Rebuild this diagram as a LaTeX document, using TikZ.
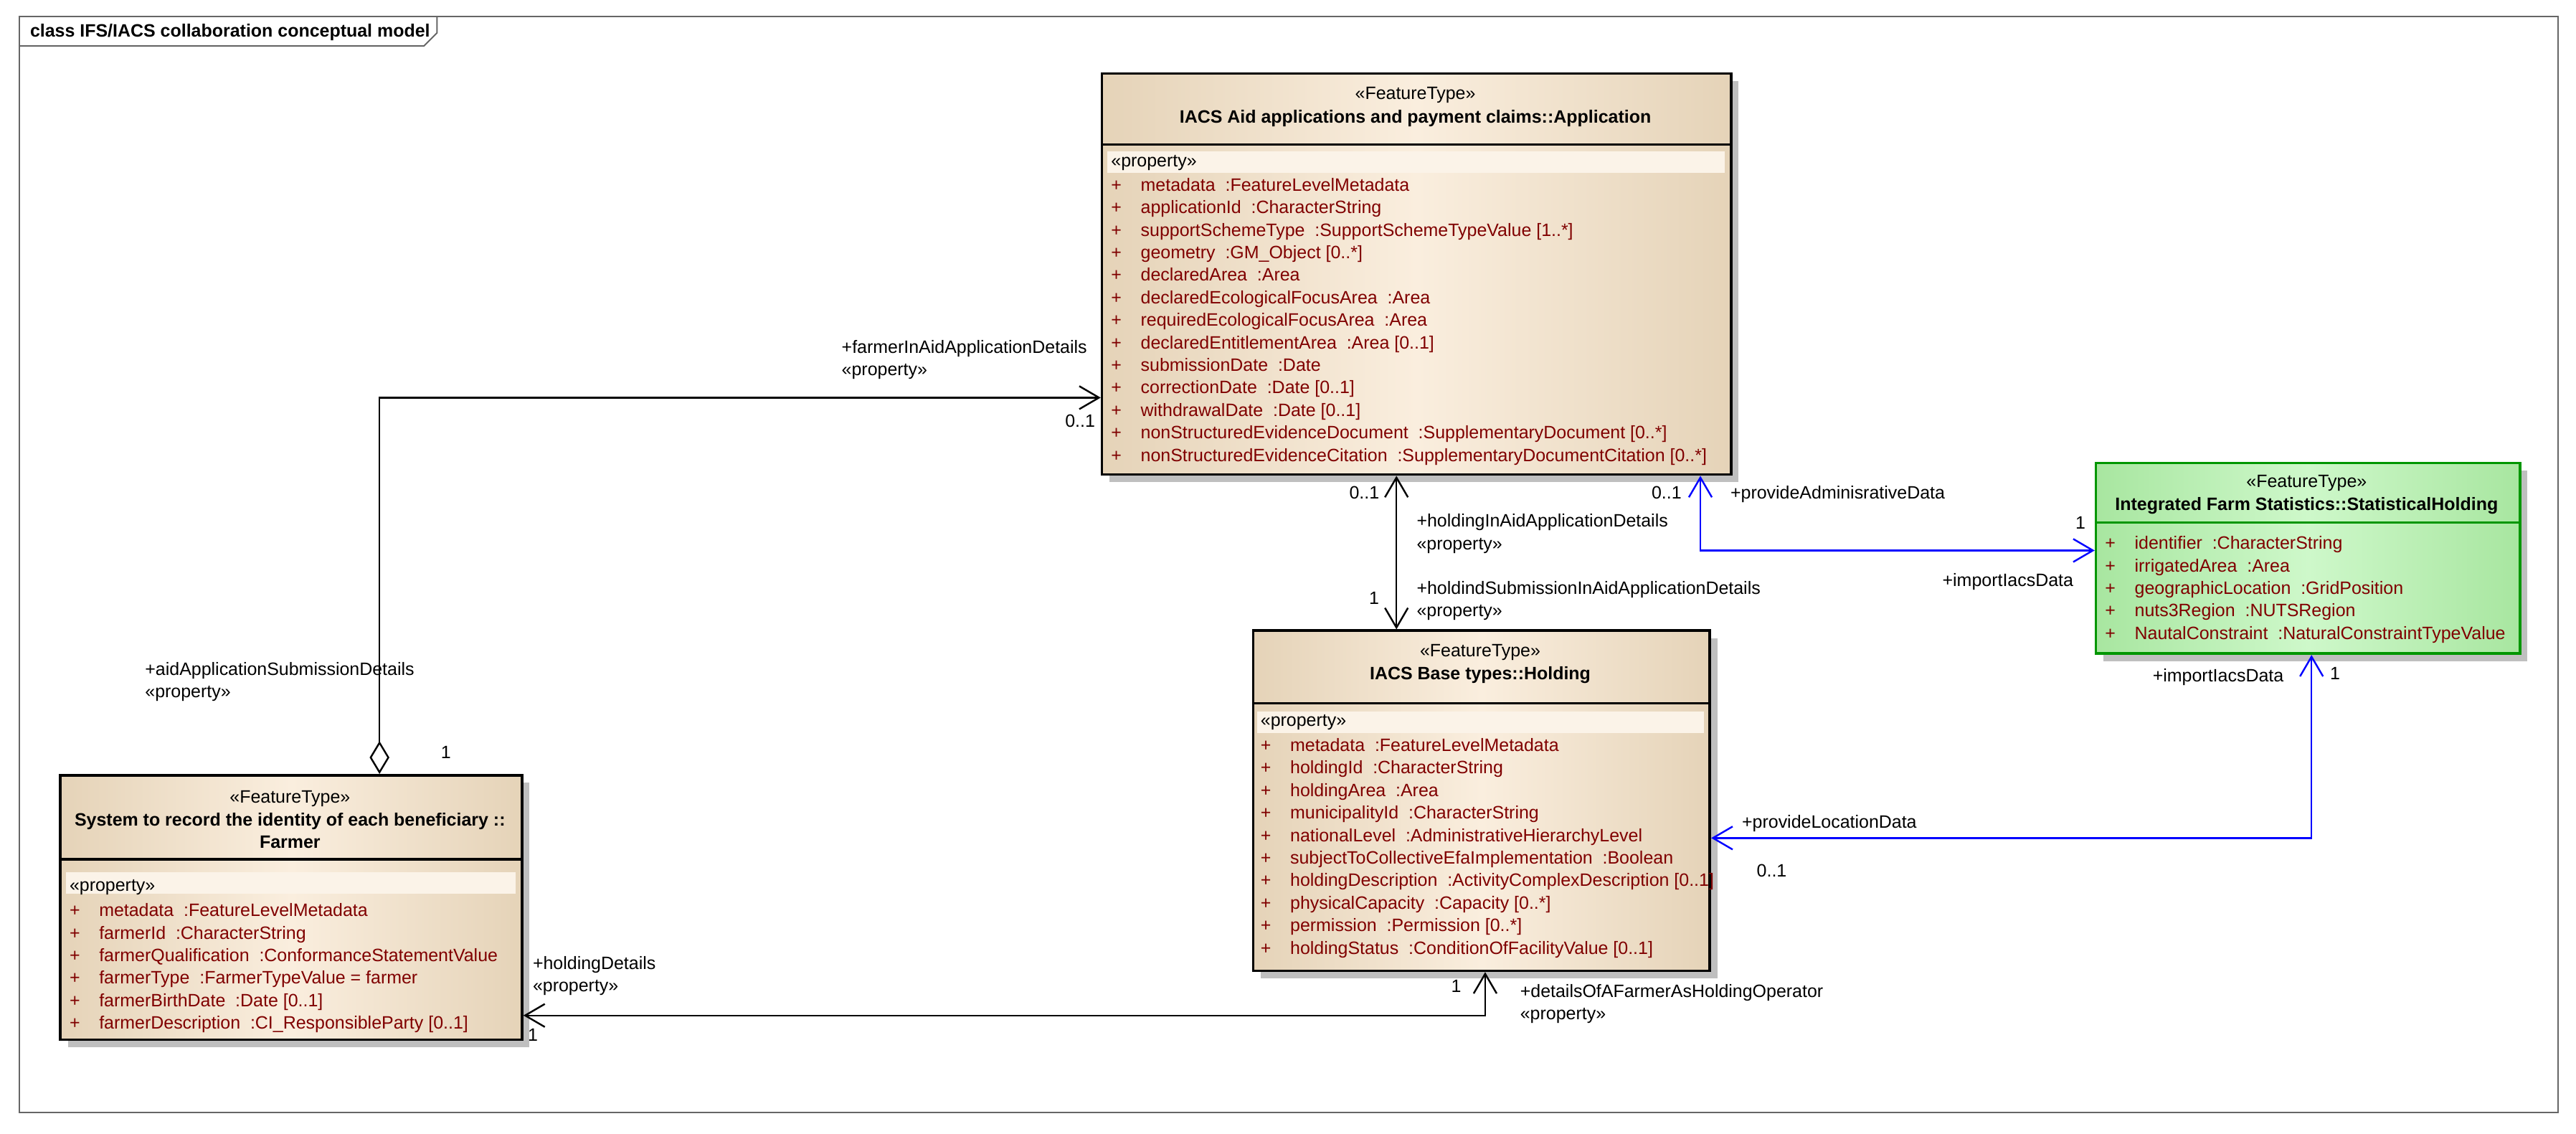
\documentclass[tikz,border=0pt]{standalone}
\usepackage{fontspec}
\setmainfont{Liberation Sans}
\usetikzlibrary{arrows.meta,shadows}
\definecolor{attrred}{RGB}{128,0,0}
\definecolor{tandark}{RGB}{229,211,184}
\definecolor{tanlight}{RGB}{250,238,222}
\definecolor{greendark}{RGB}{168,230,160}
\definecolor{greenlight}{RGB}{206,248,202}
\definecolor{greenline}{RGB}{0,150,0}
\newcommand{\attr}[1]{\makebox[0.36cm][l]{+}#1}
\begin{document}
\begin{tikzpicture}[
    font=\fontsize{6.2}{7.8}\selectfont,
    classbox/.style={draw=black, line width=0.9pt, left color=tandark, right color=tandark, middle color=tanlight, shading angle=90,
      drop shadow={shadow xshift=0.09cm, shadow yshift=-0.09cm, fill=black!25, opacity=1}, anchor=north west, inner sep=0pt},
    statbox/.style={classbox, draw=greenline, left color=greendark, right color=greendark, middle color=greenlight},
    title/.style={font=\fontsize{6.2}{7.8}\selectfont\bfseries, inner sep=0pt},
    stereo/.style={inner sep=0pt},
    attrs/.style={anchor=north west, align=left, inner sep=0pt, text=attrred},
    band/.style={fill=tanlight!70!white, draw=none},
    lbl/.style={anchor=west, inner sep=0pt},
    assoc/.style={line width=0.6pt, {Straight Barb[length=2.4mm,width=2.8mm]}-{Straight Barb[length=2.4mm,width=2.8mm]}},
    blueassoc/.style={assoc, draw=blue}
]
\useasboundingbox (0,0) rectangle (31.36,-13.8);

% Frame
\draw[black!60, line width=0.5pt] (0.24,-0.20) rectangle (31.14,-13.54);
\draw[black!60, line width=0.5pt] (0.24,-0.56) -- (5.16,-0.56) -- (5.32,-0.40) -- (5.32,-0.20);
\node[lbl, font=\fontsize{6.2}{7.8}\selectfont\bfseries] (frametitle) at (0.36,-0.39) {class IFS/IACS collaboration conceptual model};

% Application
\node[classbox, minimum width=7.66cm, minimum height=4.88cm] (app) at (13.40,-0.88) {};
\draw[line width=0.9pt] (13.40,-1.76) -- (21.06,-1.76);
\node[stereo] (appst) at (17.23,-1.16) {«FeatureType»};
\node[title] (appname) at (17.23,-1.44) {IACS Aid applications and payment claims::Application};
\fill[band] (13.48,-1.84) rectangle (21.0,-2.10);
\node[lbl] (appprop) at (13.52,-1.98) {«property»};
\node[attrs] (appattrs) at (13.52,-2.16) {\attr{metadata\ \ :FeatureLevelMetadata}\\
  \attr{applicationId\ \ :CharacterString}\\
  \attr{supportSchemeType\ \ :SupportSchemeTypeValue [1..*]}\\
  \attr{geometry\ \ :GM\_Object [0..*]}\\
  \attr{declaredArea\ \ :Area}\\
  \attr{declaredEcologicalFocusArea\ \ :Area}\\
  \attr{requiredEcologicalFocusArea\ \ :Area}\\
  \attr{declaredEntitlementArea\ \ :Area [0..1]}\\
  \attr{submissionDate\ \ :Date}\\
  \attr{correctionDate\ \ :Date [0..1]}\\
  \attr{withdrawalDate\ \ :Date [0..1]}\\
  \attr{nonStructuredEvidenceDocument\ \ :SupplementaryDocument [0..*]}\\
  \attr{nonStructuredEvidenceCitation\ \ :SupplementaryDocumentCitation [0..*]}};

% StatisticalHolding
\node[statbox, minimum width=5.16cm, minimum height=2.32cm] (stat) at (25.50,-5.62) {};
\draw[greenline, line width=0.9pt] (25.50,-6.36) -- (30.66,-6.36);
\node[stereo] (statst) at (28.08,-5.88) {«FeatureType»};
\node[title] (statname) at (28.08,-6.16) {Integrated Farm Statistics::StatisticalHolding};
\node[attrs] (statattrs) at (25.62,-6.52) {\attr{identifier\ \ :CharacterString}\\
  \attr{irrigatedArea\ \ :Area}\\
  \attr{geographicLocation\ \ :GridPosition}\\
  \attr{nuts3Region\ \ :NUTSRegion}\\
  \attr{NautalConstraint\ \ :NaturalConstraintTypeValue}};

% Holding
\node[classbox, minimum width=5.56cm, minimum height=4.14cm] (hold) at (15.24,-7.66) {};
\draw[line width=0.9pt] (15.24,-8.56) -- (20.80,-8.56);
\node[stereo] (holdst) at (18.02,-7.94) {«FeatureType»};
\node[title] (holdname) at (18.02,-8.22) {IACS Base types::Holding};
\fill[band] (15.30,-8.66) rectangle (20.74,-8.92);
\node[lbl] (holdprop) at (15.34,-8.79) {«property»};
\node[attrs] (holdattrs) at (15.34,-8.98) {\attr{metadata\ \ :FeatureLevelMetadata}\\
  \attr{holdingId\ \ :CharacterString}\\
  \attr{holdingArea\ \ :Area}\\
  \attr{municipalityId\ \ :CharacterString}\\
  \attr{nationalLevel\ \ :AdministrativeHierarchyLevel}\\
  \attr{subjectToCollectiveEfaImplementation\ \ :Boolean}\\
  \attr{holdingDescription\ \ :ActivityComplexDescription [0..1]}\\
  \attr{physicalCapacity\ \ :Capacity [0..*]}\\
  \attr{permission\ \ :Permission [0..*]}\\
  \attr{holdingStatus\ \ :ConditionOfFacilityValue [0..1]}};

% Farmer
\node[classbox, minimum width=5.62cm, minimum height=3.22cm] (farmer) at (0.72,-9.42) {};
\draw[line width=0.9pt] (0.72,-10.46) -- (6.34,-10.46);
\node[stereo] (farmerst) at (3.53,-9.72) {«FeatureType»};
\node[title] (farmername) at (3.53,-10.00) {System to record the identity of each beneficiary ::};
\node[title] (farmername2) at (3.53,-10.25) {Farmer};
\fill[band] (0.80,-10.62) rectangle (6.28,-10.88);
\node[lbl] (farmerprop) at (0.84,-10.80) {«property»};
\node[attrs] (farmerattrs) at (0.84,-10.99) {\attr{metadata\ \ :FeatureLevelMetadata}\\
  \attr{farmerId\ \ :CharacterString}\\
  \attr{farmerQualification\ \ :ConformanceStatementValue}\\
  \attr{farmerType\ \ :FarmerTypeValue = farmer}\\
  \attr{farmerBirthDate\ \ :Date [0..1]}\\
  \attr{farmerDescription\ \ :CI\_ResponsibleParty [0..1]}};

% Bend points
\coordinate (c1) at (4.62,-4.84);
\coordinate (c2) at (17.00,-6.0);
\coordinate (c3) at (20.70,-6.70);
\coordinate (c4) at (28.14,-10.20);
\coordinate (c5) at (18.08,-12.36);

% Connectors
\draw[line width=0.6pt, {Diamond[open,length=4mm,width=2.4mm]}-{Straight Barb[length=2.4mm,width=2.8mm]}]
  (farmer.north -| c1) |- (app.west |- c1);
\draw[assoc] (app.south -| c2) -- (hold.north -| c2);
\draw[blueassoc] (app.south -| c3) |- (stat.west |- c3);
\draw[blueassoc] (hold.east |- c4) -| (stat.south -| c4);
\draw[assoc] (farmer.east |- c5) -| (hold.south -| c5);

% Labels
\node[lbl] (l1) at (10.24,-4.24) {+farmerInAidApplicationDetails};
\node[lbl] (l1p) at (10.24,-4.52) {«property»};
\node[lbl] (m1) at (12.96,-5.12) {0..1};
\node[lbl] (l2) at (1.76,-8.16) {+aidApplicationSubmissionDetails};
\node[lbl] (l2p) at (1.76,-8.44) {«property»};
\node[lbl] (m2) at (5.36,-9.16) {1};
\node[lbl] (m3) at (16.42,-6.00) {0..1};
\node[lbl] (l3) at (17.24,-6.36) {+holdingInAidApplicationDetails};
\node[lbl] (l3p) at (17.24,-6.64) {«property»};
\node[lbl] (m4) at (16.66,-7.28) {1};
\node[lbl] (l4) at (17.24,-7.18) {+holdindSubmissionInAidApplicationDetails};
\node[lbl] (l4p) at (17.24,-7.46) {«property»};
\node[lbl] (m5) at (20.10,-6.00) {0..1};
\node[lbl] (l5) at (21.06,-6.02) {+provideAdminisrativeData};
\node[lbl] (m6) at (25.26,-6.36) {1};
\node[lbl] (l6) at (23.64,-7.08) {+importIacsData};
\node[lbl] (l7) at (26.20,-8.24) {+importIacsData};
\node[lbl] (m7) at (28.36,-8.20) {1};
\node[lbl] (l8) at (21.20,-10.02) {+provideLocationData};
\node[lbl] (m8) at (21.38,-10.60) {0..1};
\node[lbl] (l9) at (6.48,-11.74) {+holdingDetails};
\node[lbl] (l9p) at (6.48,-12.02) {«property»};
\node[lbl] (m9) at (6.42,-12.60) {1};
\node[lbl] (m10) at (17.66,-12.00) {1};
\node[lbl] (l10) at (18.50,-12.08) {+detailsOfAFarmerAsHoldingOperator};
\node[lbl] (l10p) at (18.50,-12.36) {«property»};
\end{tikzpicture}
\end{document}
